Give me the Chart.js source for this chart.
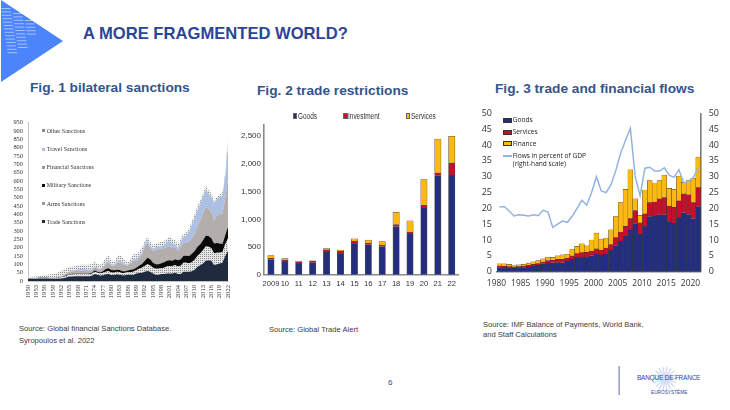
<!DOCTYPE html>
<html>
<head>
<meta charset="utf-8">
<script src="https://cdn.jsdelivr.net/npm/chart.js@4"></script>
<style>
html, body { margin: 0; padding: 0; background: #fff; }
body { position: relative; width: 730px; height: 410px; overflow: hidden; font-family: "Liberation Sans", sans-serif; }
canvas { position: absolute; filter: blur(0.3px); }
.txt { position: absolute; white-space: nowrap; line-height: 12px; }
.fig { font-weight: bold; font-size: 13.7px; color: #33548c; line-height: 16px; }
.src { font-size: 7.6px; color: #3c3c3c; }
.sw { position: absolute; }
.leg1 { font-family: "Liberation Serif", serif; font-size: 6px; color: #333; }
.leg2 { font-size: 8.5px; color: #333; transform: scaleX(0.76); transform-origin: left center; }
.leg3 { font-family: "Open Sans", sans-serif; font-size: 6.6px; color: #222; }
</style>
</head>
<body>
<svg id="tri" width="70" height="84" style="position:absolute;left:0;top:0"></svg>
<div class="txt" style="left:83px;top:26px;line-height:16px;font-size:16.6px;font-weight:bold;color:#2c4596">A MORE FRAGMENTED WORLD?</div>
<div class="txt fig" style="left:30px;top:80px">Fig. 1 bilateral sanctions</div>
<div class="txt fig" style="left:257px;top:83px">Fig. 2 trade restrictions</div>
<div class="txt fig" style="left:495px;top:81px">Fig. 3 trade and financial flows</div>

<canvas id="sanctionsChart" width="240" height="190" style="left:0;top:110px;width:240px;height:190px"></canvas>
<canvas id="restrictionsChart" width="240" height="200" style="left:230px;top:100px;width:240px;height:200px"></canvas>
<canvas id="flowsChart" width="260" height="200" style="left:470px;top:100px;width:260px;height:200px"></canvas>
<div id="legends"></div>

<div class="txt src" style="left:19px;top:323px">Source: Global financial Sanctions Database.</div>
<div class="txt src" style="left:19px;top:335px">Syropoulos et al. 2022</div>
<div class="txt src" style="left:269px;top:324px">Source: Global Trade Alert</div>
<div class="txt src" style="left:483px;top:319px">Source: IMF Balance of Payments, World Bank,</div>
<div class="txt src" style="left:483px;top:329px">and Staff Calculations</div>
<div class="txt" style="left:388px;top:377px;font-size:8px;color:#2c4596">6</div>

<svg id="logo" width="120" height="50" style="position:absolute;left:610px;top:358px"></svg>
<div class="txt" style="left:637px;top:372px;font-size:8px;letter-spacing:-0.2px;color:#2c4596;transform:scaleX(0.8);transform-origin:left center">BANQUE DE FRANCE</div>
<div class="txt" style="left:651px;top:387px;font-size:4.6px;letter-spacing:0.1px;color:#2c4596">EUROSYSTÈME</div>

<script>
Chart.defaults.animation = false;
Chart.defaults.responsive = false;
Chart.defaults.plugins.legend.display = false;
Chart.defaults.plugins.tooltip.enabled = false;

// Fig. 1, 1950-2022, one value per year, thickness of each layer
const sanctionYears = [];
for (let y = 1950; y <= 2022; y++) sanctionYears.push(y);
const tradeSanctions = [
    12,13,14,14,15,15,15,15,14,14, 13,14,15,18,22,25,27,28,28,28,
    28,28,28,32,42,38,33,35,40,42, 36,36,40,38,34,35,38,38,38,45,
    48,50,55,60,55,45,38,38,42,42, 45,45,45,50,42,42,55,55,55,58,
    68,85,95,105,122,125,122,95,100,105, 110,150,180];
const armsSanctions = [
    2,2,2,2,3,3,3,3,3,3, 3,4,6,8,10,12,12,12,12,12,
    12,12,12,12,14,12,12,14,16,16, 15,14,15,14,13,14,15,16,18,20,
    25,30,35,40,38,35,35,35,35,38, 42,45,45,45,45,50,55,55,50,55,
    60,65,70,80,85,80,75,70,70,65, 62,70,75];
const militarySanctions = [
    1,1,1,1,1,1,1,1,1,1, 1,1,2,3,4,4,4,4,4,4,
    4,4,4,5,8,6,6,10,16,18, 15,14,12,14,12,10,10,14,14,14,
    18,22,30,40,38,30,28,28,30,32, 35,35,32,35,38,38,42,42,45,50,
    52,55,55,60,65,65,60,60,58,55, 50,55,70];
const financialSanctions = [
    1,1,2,2,2,2,2,2,2,3, 4,5,6,8,10,14,14,16,18,18,
    18,16,15,15,18,16,16,20,30,35, 28,26,40,45,45,35,30,40,55,40,
    45,55,85,85,70,70,85,90,85,85, 80,85,75,70,55,75,75,80,85,95,
    100,125,145,160,170,165,155,140,165,175, 180,225,285];
const travelSanctions = [
    0,0,0,0,0,0,0,0,0,0, 0,0,1,2,3,4,5,6,8,10,
    10,10,8,8,8,8,8,8,10,12, 8,8,12,15,10,8,6,8,12,12,
    14,16,18,20,12,14,16,16,18,20, 30,35,28,22,20,30,35,40,60,80,
    100,95,95,100,105,90,95,100,100,105, 110,125,200];
const otherSanctions = [
    5,8,7,8,9,12,14,16,19,19, 24,28,30,30,28,26,24,22,25,25,
    26,28,30,30,25,22,22,25,28,30, 22,17,25,30,25,20,13,20,25,29,
    25,27,17,20,22,22,22,23,25,23, 22,23,25,23,20,20,23,20,20,22,
    20,25,25,20,25,20,20,15,12,15, 20,25,55];

// Fig. 2
const restrictionYears = ['2009','10','11','12','13','14','15','16','17','18','19','20','21','22'];
const restrictionGoods = [275,245,205,215,420,385,565,540,510,870,745,1215,1790,1800];
const restrictionInvestment = [20,20,25,30,30,35,40,30,25,35,25,40,50,220];
const restrictionServices = [50,25,15,5,20,25,45,55,65,225,205,465,610,480];
const restrictionTicks = [0,500,1000,1500,2000,2500];

// Fig. 3, 1980-2021
const flowYears = [];
for (let y = 1980; y <= 2021; y++) flowYears.push(y);
const flowGoods = [
    1.3,1.2,1.1,1.1,1.2,1.3,1.5,1.8,2.0,2.5, 2.7,2.8,2.9,2.8,3.3,4.0,4.6,4.6,4.6,5.0,
    5.6,5.3,5.6,6.8,8.2,9.7,11.2,13.2,15.2,11.8, 14.4,17.4,17.6,18,18,15.8,15.3,17,18.6,18,
    16.7,20.6];
const flowServices = [
    .5,.5,.5,.4,.4,.4,.5,.5,.6,.5, .8,.8,1,1.1,.9,1,1.1,1.4,1.5,1.5,
    1.6,1.5,1.9,1.8,2.6,2.8,3.1,3.6,4.1,3.6, 3.9,4.4,4.4,5,5.4,4.9,5,5.4,6,6.3,
    5.1,6];
const flowFinance = [
    .7,.8,.7,.6,.6,.6,.7,.8,.9,1.1, 1.1,.9,1.1,1.4,1.3,2,2.3,2.8,2.1,3.5,
    5,3.5,3.1,4.6,6.6,9.3,11.7,15.4,3.7,2.4, 7.5,7,6,5.8,7.1,5.6,5.7,7.8,3.6,4.5,
    7.7,9.6];
const flowGdp = [
    20.4,20.6,19.2,17.6,18,17.8,17.6,18,17.7,19.4, 18.9,14,15,16,15.6,17.5,20,22.6,21,25,
    30,25.5,25,27.5,32,37.5,41.5,45.3,30,24, 32.7,33,31.8,31.8,32.8,30.5,29.8,32.2,28,28.6,
    29.8,32.8];

// fine dotted fill for the arms and other layers
function speckle(bg, dot) {
    const c = document.createElement('canvas');
    c.width = 2; c.height = 2;
    const g = c.getContext('2d');
    g.fillStyle = bg; g.fillRect(0, 0, 2, 2);
    g.fillStyle = dot; g.fillRect(0, 0, 1, 1);
    return g.createPattern(c, 'repeat');
}

function fixWidth(w) { return function(scale) { scale.width = w; }; }
function fixHeight(h) { return function(scale) { scale.height = h; }; }

function area(label, data, color, fill) {
    return { label: label, data: data, backgroundColor: color, borderWidth: 0, pointRadius: 0, fill: fill, tension: 0 };
}

new Chart('sanctionsChart', {
    type: 'line',
    data: {
        labels: sanctionYears,
        datasets: [
            area('Trade Sanctions', tradeSanctions, '#1e2b3f', 'origin'),
            area('Arms Sanctions', armsSanctions, speckle('#e6e6e6', '#8c8c8c'), '-1'),
            area('Military Sanctions', militarySanctions, '#0a0a0a', '-1'),
            area('Financial Sanctions', financialSanctions, '#b3adab', '-1'),
            area('Travel Sanctions', travelSanctions, '#abc0e2', '-1'),
            area('Other Sanctions', otherSanctions, speckle('#ececec', '#8c8c8c'), '-1')
        ]
    },
    options: {
        layout: { padding: { top: 12.7, right: 12 } },
        scales: {
            x: {
                offset: false,
                grid: { display: false, drawTicks: false },
                border: { color: '#c4c4c4' },
                afterFit: fixHeight(19),
                ticks: {
                    autoSkip: false, minRotation: 90, maxRotation: 90, padding: 4,
                    color: '#333', font: { family: 'Liberation Serif', size: 6.6 },
                    callback: function(v, i) { return i % 3 === 0 ? sanctionYears[i] : ''; }
                }
            },
            y: {
                stacked: true, min: 0, max: 950,
                grid: { display: false, drawTicks: false },
                border: { color: '#c4c4c4' },
                afterFit: fixWidth(28),
                ticks: { stepSize: 50, autoSkip: false, padding: 5, color: '#333', font: { family: 'Liberation Serif', size: 6.4 } }
            }
        }
    }
});

new Chart('restrictionsChart', {
    type: 'bar',
    data: {
        labels: restrictionYears,
        datasets: [
            { label: 'Goods', data: restrictionGoods, backgroundColor: '#232f7e' },
            { label: 'Investment', data: restrictionInvestment, backgroundColor: '#c4102f' },
            { label: 'Services', data: restrictionServices, backgroundColor: '#fdb913' }
        ].map(function(d) { return Object.assign(d, { borderColor: '#55524a', borderWidth: 0.6, barThickness: 6.4 }); })
    },
    options: {
        layout: { padding: { top: 25.2, right: 11.3 } },
        scales: {
            x: {
                stacked: true,
                grid: { display: false, drawTicks: false },
                border: { color: '#8a8a8a', width: 1.6 },
                afterFit: fixHeight(25.3),
                ticks: { autoSkip: false, maxRotation: 0, padding: 5, color: '#333', font: { family: 'Liberation Sans', size: 7.6 } }
            },
            y: {
                stacked: true, min: 0, max: 2700,
                grid: { display: false, drawTicks: false },
                border: { color: '#8a8a8a', width: 1.6 },
                afterFit: fixWidth(34),
                afterBuildTicks: function(scale) { scale.ticks = restrictionTicks.map(function(v) { return { value: v }; }); },
                ticks: {
                    autoSkip: false, padding: 3, color: '#333', font: { family: 'Liberation Sans', size: 8 },
                    callback: function(v) { return v.toLocaleString('en-US'); }
                }
            }
        }
    }
});

new Chart('flowsChart', {
    data: {
        labels: flowYears,
        datasets: [
            { type: 'line', label: 'Flows in percent of GDP (right-hand scale)', data: flowGdp, yAxisID: 'y2', borderColor: '#93b3e0', borderWidth: 1.5, pointRadius: 0, tension: 0, order: 0 },
            { type: 'bar', label: 'Goods', data: flowGoods, backgroundColor: '#232f7e', order: 1 },
            { type: 'bar', label: 'Services', data: flowServices, backgroundColor: '#c4102f', order: 1 },
            { type: 'bar', label: 'Finance', data: flowFinance, backgroundColor: '#fdb913', order: 1 }
        ].map(function(d) {
            return d.type === 'bar' ? Object.assign(d, { borderColor: '#3a3420', borderWidth: 0.4, categoryPercentage: 1, barPercentage: 1 }) : d;
        })
    },
    options: {
        layout: { padding: { top: 12.7 } },
        scales: {
            x: {
                stacked: true,
                grid: { display: false, drawTicks: false },
                border: { color: '#7c7c7c', width: 1.4 },
                afterFit: fixHeight(28.3),
                ticks: {
                    autoSkip: false, maxRotation: 0, padding: 7, labelOffset: -3,
                    color: '#333', font: { family: 'Open Sans', size: 8.4 },
                    callback: function(v, i) { return i % 5 === 0 ? flowYears[i] : ''; }
                }
            },
            y: {
                stacked: true, min: 0, max: 50,
                grid: { display: false, drawTicks: false },
                border: { display: false },
                afterFit: fixWidth(27),
                ticks: { stepSize: 5, autoSkip: false, padding: 5, color: '#333', font: { family: 'Open Sans', size: 9 } }
            },
            y2: {
                position: 'right', min: 0, max: 50,
                grid: { display: false, drawTicks: false },
                border: { color: '#7c7c7c', width: 1.6 },
                afterFit: fixWidth(29.3),
                ticks: { stepSize: 5, autoSkip: false, padding: 8, color: '#333', font: { family: 'Open Sans', size: 9 } }
            }
        }
    }
});

// legends sit inside the plots in the original, so they are placed by hand
const legends = document.getElementById('legends');
function swatch(x, y, w, h, css) {
    const s = document.createElement('div');
    s.className = 'sw';
    s.style.cssText = 'left:' + x + 'px;top:' + y + 'px;width:' + w + 'px;height:' + h + 'px;' + css;
    legends.appendChild(s);
}
function label(x, yc, cls, text) {
    const t = document.createElement('div');
    t.className = 'txt ' + cls;
    t.style.left = x + 'px';
    t.style.top = (yc - 6) + 'px';
    t.textContent = text;
    legends.appendChild(t);
}

const fig1Legend = [
    ['Other Sanctions', 130.7, '#8a8a8a'], ['Travel Sanctions', 149, '#abc0e2'],
    ['Financial Sanctions', 167.3, '#9c9795'], ['Military Sanctions', 185.3, '#0a0a0a'],
    ['Arms Sanctions', 203.7, '#9a9a9a'], ['Trade Sanctions', 221.7, '#1e2b3f']
];
fig1Legend.forEach(function(e) {
    swatch(42, e[1] - 1.5, 3, 3, 'background:' + e[2]);
    label(46.7, e[1], 'leg1', e[0]);
});

[['Goods', 292.7, 298, '#232f7e'], ['Investment', 343.3, 348, '#c4102f'], ['Services', 405.7, 411, '#fdb913']].forEach(function(e) {
    swatch(e[1], 113.3, 4.4, 5.6, 'background:' + e[3] + ';border:0.6px solid #666;box-sizing:border-box');
    label(e[2], 116, 'leg2', e[0]);
});

[['Goods', 120, '#232f7e'], ['Services', 132, '#c4102f'], ['Finance', 143.7, '#fdb913']].forEach(function(e) {
    swatch(502.7, e[1] - 2.5, 9, 5, 'background:' + e[2] + ';border:0.5px solid #333;box-sizing:border-box');
    label(512.7, e[1], 'leg3', e[0]);
});
swatch(502.7, 155, 9, 1.5, 'background:#93b3e0');
label(512.7, 155.7, 'leg3', 'Flows in percent of GDP');
label(512.7, 164, 'leg3', '(right-hand scale)');

// corner triangle and logo artwork
const ns = 'http://www.w3.org/2000/svg';
function svgEl(parent, name, attrs) {
    const e = document.createElementNS(ns, name);
    for (const k in attrs) e.setAttribute(k, attrs[k]);
    parent.appendChild(e);
}
const tri = document.getElementById('tri');
svgEl(tri, 'polygon', { points: '1,0 63,41 1,82', fill: '#4c84fb' });
// three columns of short stripes, x, first y, last y
[[1, 8, 55], [12, 13, 48], [23, 20, 36]].forEach(function(col) {
    for (let y = col[1]; y <= col[2]; y += 3.4) {
        svgEl(tri, 'rect', { x: col[0] + (y - 8) * 0.15, y: y, width: 9.5, height: 1, fill: '#fff', opacity: 0.5 });
    }
});

const logo = document.getElementById('logo');
svgEl(logo, 'rect', { x: 8.6, y: 8, width: 1, height: 29, fill: '#5a68ae' });
for (let a = 0; a < 180; a += 20) {
    svgEl(logo, 'rect', { x: 43, y: 20, width: 24, height: 1.4, fill: '#d3dbf3', transform: 'rotate(' + a + ' 55 20.7)' });
}
</script>
</body>
</html>
